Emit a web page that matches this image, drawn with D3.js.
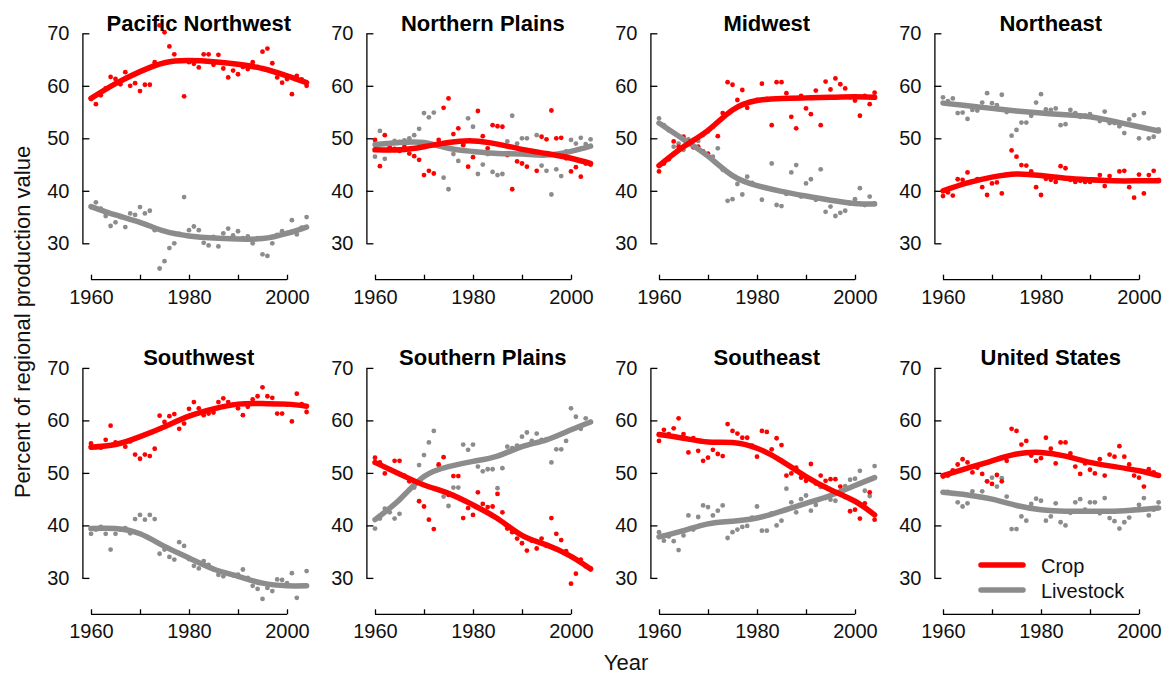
<!DOCTYPE html>
<html>
<head>
<meta charset="utf-8">
<script src="https://cdn.jsdelivr.net/npm/d3@7"></script>
<style>
  body { margin: 0; background: #fff; }
  svg { display: block; font-family: "Liberation Sans", Arial, sans-serif; }
</style>
</head>
<body>
<svg id="chart" width="1163" height="677"></svg>
<script>
// years of the annual observations
const years = [1960, 1961, 1962, 1963, 1964, 1965, 1966, 1967, 1968, 1969,
  1970, 1971, 1972, 1973, 1974, 1975, 1976, 1977, 1978, 1979,
  1980, 1981, 1982, 1983, 1984, 1985, 1986, 1987, 1988, 1989,
  1990, 1991, 1992, 1993, 1994, 1995, 1996, 1997, 1998, 1999,
  2000, 2001, 2002, 2003, 2004];
const fitYears = [1960, 1965, 1970, 1975, 1980, 1985, 1990, 1995, 2000, 2004];

const regionNames = ["Pacific Northwest", "Northern Plains", "Midwest", "Northeast",
  "Southwest", "Southern Plains", "Southeast", "United States"];

const cropPNW = [57.5, 56.5, 58.2, 59.5, 61.7, 61.3, 60.3, 62.6, 60.0, 60.5, 59.0, 60.2, 60.2, 64.5, 71.5, 70.2, 67.5, 66.0, 64.8, 58.0,
  64.5, 64.2, 63.5, 66.0, 66.0, 64.0, 65.9, 63.3, 61.6, 62.9, 62.2, 63.6, 63.2, 64.5, 63.6, 66.5, 67.1, 64.3, 61.6, 60.6, 61.3, 58.4, 61.9, 61.2, 60.0];
const livePNW = [36.9, 37.8, 36.6, 35.2, 33.3, 34.0, 35.0, 33.1, 35.7, 35.4, 36.9, 35.7, 36.2, 32.5, 25.2, 26.6, 29.1, 30.0, 31.8, 38.8,
  32.5, 33.2, 32.5, 30.1, 29.6, 31.2, 29.4, 31.9, 32.8, 31.5, 32.3, 31.0, 31.3, 30.0, 31.0, 27.9, 27.6, 30.0, 31.6, 32.3, 32.0, 34.4, 31.7, 33.0, 35.0];
const cropFitPNW = [57.6, 60.4, 62.7, 64.4, 64.8, 64.6, 64.1, 63.3, 61.9, 60.6];
const liveFitPNW = [37.0, 35.4, 34.0, 32.3, 31.4, 31.0, 30.8, 30.9, 31.9, 33.1];

const cropNP = [49.7, 44.7, 50.6, 48.3, 48.0, 47.6, 48.4, 47.1, 46.6, 45.9, 43.0, 43.8, 43.3, 49.7, 55.8, 57.6, 50.8, 51.9, 48.7, 44.6,
  46.4, 55.2, 50.4, 48.1, 52.5, 52.3, 52.2, 46.8, 40.3, 45.6, 45.2, 44.6, 47.5, 43.8, 50.3, 49.8, 55.3, 50.0, 50.1, 46.2, 43.7, 44.5, 42.7, 45.2, 45.0];
const liveNP = [46.5, 51.4, 46.1, 49.0, 49.5, 49.3, 49.6, 50.0, 50.6, 51.8, 54.8, 54.0, 54.9, 48.5, 42.5, 40.3, 47.0, 45.7, 48.8, 53.8,
  52.2, 43.2, 45.0, 47.0, 43.6, 43.0, 43.2, 49.4, 54.3, 49.0, 50.0, 50.0, 47.0, 50.6, 44.8, 43.8, 39.3, 44.1, 42.8, 47.5, 49.7, 49.0, 50.1, 48.9, 49.8];
const cropFitNP = [47.8, 47.8, 48.4, 49.2, 49.5, 48.9, 47.9, 47.1, 46.2, 45.2];
const liveFitNP = [48.8, 49.2, 49.2, 48.1, 47.5, 47.1, 47.0, 46.8, 47.5, 48.5];

const cropMW = [43.7, 45.2, 46.0, 49.4, 48.4, 50.3, 49.4, 48.3, 48.4, 47.5, 47.1, 52.2, 50.4, 54.8, 60.7, 60.2, 57.3, 59.2, 55.8, 57.0,
  57.3, 60.4, 57.5, 52.5, 60.7, 60.7, 58.6, 54.1, 51.9, 58.1, 55.7, 54.6, 59.1, 52.5, 60.8, 59.3, 61.4, 60.3, 59.5, 57.8, 57.2, 54.3, 58.1, 56.5, 58.7];
const liveMW = [53.8, 52.5, 51.5, 48.4, 49.0, 47.8, 49.8, 49.7, 49.5, 50.6, 51.3, 46.5, 48.1, 44.0, 38.1, 38.4, 41.3, 39.3, 42.7, 41.5,
  41.0, 38.3, 40.5, 45.2, 37.3, 37.1, 39.4, 43.5, 44.9, 38.9, 41.4, 42.2, 38.3, 44.1, 36.0, 37.0, 35.2, 35.8, 36.2, 37.6, 38.4, 40.5, 37.3, 38.9, 37.6];
const cropFitMW = [44.8, 48.4, 51.5, 55.4, 57.2, 57.6, 57.7, 57.8, 57.9, 57.8];
const liveFitMW = [52.9, 49.8, 46.6, 42.9, 41.0, 39.9, 39.0, 38.2, 37.6, 37.5];

const cropNE = [39.0, 39.7, 39.1, 42.2, 42.1, 43.5, 41.8, 42.2, 40.7, 39.2, 41.4, 41.6, 39.5, 43.1, 47.7, 46.5, 44.9, 44.8, 43.7, 40.7,
  39.2, 42.3, 42.1, 41.7, 44.7, 44.3, 42.1, 41.7, 41.9, 41.7, 41.7, 42.0, 43.0, 40.9, 42.8, 41.9, 43.7, 43.8, 40.7, 38.7, 43.1, 39.5, 43.0, 43.8, 42.1];
const liveNE = [57.8, 57.1, 57.6, 54.8, 54.9, 53.7, 55.4, 55.3, 56.8, 58.6, 56.7, 56.3, 58.3, 55.0, 50.5, 51.6, 53.0, 53.0, 54.3, 56.8,
  58.4, 55.5, 55.4, 55.7, 52.5, 52.7, 55.4, 54.8, 54.1, 54.3, 54.6, 54.0, 53.3, 55.1, 52.9, 52.9, 52.3, 51.0, 53.6, 54.4, 50.0, 54.8, 50.0, 50.3, 51.7];
const cropFitNE = [40.0, 41.5, 42.6, 43.2, 42.9, 42.4, 42.1, 41.9, 41.9, 41.9];
const liveFitNE = [56.7, 56.2, 55.7, 55.2, 54.8, 54.5, 54.1, 53.2, 52.2, 51.4];

const cropSW = [55.6, 54.9, 54.8, 56.3, 59.0, 55.8, 55.6, 55.0, 56.0, 53.5, 52.7, 53.5, 53.2, 54.6, 60.9, 59.7, 60.8, 61.2, 58.4, 59.4,
  62.2, 63.5, 62.3, 61.0, 61.3, 61.5, 63.5, 64.2, 63.5, 63.0, 62.3, 61.0, 62.6, 64.0, 64.6, 66.3, 64.6, 64.3, 61.3, 61.3, 63.0, 59.8, 65.1, 63.1, 61.6];
const liveSW = [38.4, 39.2, 39.7, 38.4, 35.4, 38.4, 39.2, 39.5, 38.5, 41.2, 42.0, 41.1, 42.0, 41.2, 34.6, 35.4, 34.0, 33.5, 36.8, 36.1,
  33.6, 32.3, 31.8, 33.2, 32.5, 31.6, 30.6, 30.3, 30.8, 30.5, 30.6, 31.6, 30.0, 28.5, 27.9, 26.0, 28.1, 27.5, 29.7, 29.6, 29.0, 30.9, 26.2, 28.5, 31.3];
const cropFitSW = [54.9, 55.4, 56.9, 58.8, 60.8, 62.2, 63.1, 63.2, 63.1, 62.7];
const liveFitSW = [39.4, 39.4, 38.4, 36.0, 33.8, 31.7, 30.3, 29.0, 28.5, 28.5];

const cropSP = [52.9, 52.0, 49.9, 50.7, 52.3, 52.3, 49.5, 48.4, 48.0, 44.6, 43.6, 41.1, 39.3, 51.6, 53.0, 45.8, 49.4, 49.4, 41.4, 43.3,
  42.0, 46.3, 44.1, 43.5, 43.6, 46.0, 42.5, 39.4, 38.7, 37.5, 36.6, 35.2, 37.1, 35.6, 37.5, 36.1, 41.4, 38.4, 37.2, 35.1, 28.9, 30.8, 33.5, 32.2, 31.8];
const liveSP = [39.4, 41.3, 43.2, 42.5, 41.3, 42.2, 45.8, 46.8, 47.2, 51.5, 53.4, 55.8, 58.0, 51.4, 45.5, 43.7, 47.2, 47.2, 55.4, 54.4,
  55.4, 51.2, 50.3, 50.7, 50.7, 47.1, 50.9, 55.0, 54.7, 55.2, 56.9, 57.7, 56.1, 57.5, 56.3, 56.4, 52.0, 54.5, 54.5, 56.1, 62.3, 60.7, 58.4, 60.4, 59.7];
const cropFitSP = [52.0, 49.8, 47.7, 46.1, 43.9, 41.3, 38.1, 36.3, 34.1, 31.7];
const liveFitSP = [41.1, 44.9, 49.3, 51.2, 52.2, 53.2, 55.0, 56.3, 58.2, 59.7];

const cropSE = [56.1, 58.2, 57.4, 58.5, 60.4, 57.4, 53.9, 56.6, 54.2, 52.3, 52.9, 54.4, 53.6, 53.2, 59.3, 58.0, 57.5, 56.7, 56.7, 55.2,
  53.1, 58.0, 57.8, 54.5, 56.6, 55.3, 49.5, 49.9, 51.0, 49.1, 48.5, 51.7, 48.0, 49.5, 48.5, 48.8, 48.8, 47.4, 45.4, 42.7, 43.0, 41.3, 44.2, 46.3, 41.1];
const liveSE = [38.7, 37.1, 37.9, 37.0, 35.3, 38.1, 41.9, 39.2, 41.6, 43.8, 43.5, 41.9, 42.8, 43.8, 37.6, 38.7, 39.2, 39.7, 39.9, 41.5,
  43.6, 39.0, 39.0, 42.3, 40.0, 40.9, 47.0, 44.4, 42.5, 45.0, 45.7, 42.8, 43.9, 47.3, 45.2, 44.9, 44.7, 46.0, 47.5, 48.7, 48.9, 50.4, 46.6, 45.6, 51.3];
const cropFitSE = [57.3, 56.6, 55.9, 55.8, 54.7, 52.3, 49.3, 46.8, 44.6, 42.0];
const liveFitSE = [37.8, 39.0, 40.3, 40.8, 41.4, 42.7, 44.2, 45.7, 47.6, 49.1];

const cropUS = [49.3, 49.5, 50.5, 51.6, 52.6, 52.0, 50.1, 51.0, 49.8, 48.4, 47.9, 49.6, 48.4, 52.3, 58.4, 58.0, 55.4, 56.1, 53.3, 52.3,
  52.8, 56.7, 54.6, 51.8, 55.8, 55.8, 53.7, 51.2, 49.8, 51.8, 50.6, 49.9, 52.6, 49.5, 53.5, 53.1, 55.1, 53.1, 51.6, 49.5, 49.1, 47.4, 50.7, 50.1, 49.5];
const liveUS = [46.3, 46.4, 46.0, 44.4, 43.6, 44.2, 46.5, 45.5, 46.5, 48.4, 49.1, 47.4, 49.0, 45.5, 39.3, 39.3, 41.7, 40.9, 44.1, 45.1,
  44.7, 40.9, 41.7, 44.2, 40.6, 40.0, 42.4, 44.4, 45.0, 43.0, 44.4, 44.4, 42.3, 45.2, 41.4, 40.8, 39.4, 40.6, 41.5, 43.0, 43.9, 45.2, 41.9, 43.0, 44.4];
const cropFitUS = [49.5, 50.9, 52.3, 53.6, 53.9, 53.2, 52.0, 51.2, 50.4, 49.5];
const liveFitUS = [46.3, 45.8, 45.0, 43.8, 43.0, 42.7, 42.7, 42.7, 43.0, 43.3];

const xTicks = [1960, 1970, 1980, 1990, 2000];
const xTickLabels = ["1960", "", "1980", "", "2000"];
const yTicks = [30, 40, 50, 60, 70];
const legendLabels = ["Crop", "Livestock"];

const cropPts = [cropPNW, cropNP, cropMW, cropNE, cropSW, cropSP, cropSE, cropUS];
const livePts = [livePNW, liveNP, liveMW, liveNE, liveSW, liveSP, liveSE, liveUS];
const cropFits = [cropFitPNW, cropFitNP, cropFitMW, cropFitNE, cropFitSW, cropFitSP, cropFitSE, cropFitUS];
const liveFits = [liveFitPNW, liveFitNP, liveFitMW, liveFitNE, liveFitSW, liveFitSP, liveFitSE, liveFitUS];

const RED = "#ff0000";
const GREY = "#8c8c8c";

const svg = d3.select("#chart");
svg.append("rect").attr("width", 1163).attr("height", 677).attr("fill", "#fff");

const colStep = 284, rowStep = 334.6;
const pxPerYear = 4.9;

regionNames.forEach((name, i) => {
  const col = i % 4, row = Math.floor(i / 4);
  const x0 = 91 + col * colStep;        // pixel of 1960
  const yTop = 33.3 + row * rowStep;    // pixel of 70
  const g = svg.append("g");

  const x = d3.scaleLinear().domain([1960, 2004]).range([x0, x0 + 44 * pxPerYear]);
  const y = d3.scaleLinear().domain([30, 70]).range([yTop + 210, yTop]);

  // y axis, ticks pointing inwards
  const yAxis = d3.axisLeft(y).tickValues(yTicks).tickSizeInner(-7).tickSizeOuter(0).tickPadding(13);
  const axY = g.append("g").attr("transform", `translate(${x0 - 8.6},0)`).call(yAxis);
  axY.select(".domain").attr("stroke-width", 1.3);
  axY.selectAll(".tick line").attr("stroke-width", 1.3);
  axY.selectAll("text").attr("font-size", 20).attr("fill", "#111").attr("font-family", null);

  // x axis, line only from 1960 to 2000
  const xAxisY = yTop + 246.4;
  const xAxis = d3.axisBottom(x).tickValues(xTicks).tickSizeInner(-5).tickSizeOuter(0).tickPadding(10)
    .tickFormat((d, k) => xTickLabels[k]);
  const axX = g.append("g").attr("transform", `translate(0,${xAxisY})`).call(xAxis);
  axX.select(".domain").remove();
  axX.append("line").attr("x1", x(1960)).attr("x2", x(2000)).attr("stroke", "#000").attr("stroke-width", 1.3);
  axX.selectAll(".tick line").attr("stroke-width", 1.3);
  axX.selectAll("text").attr("font-size", 20).attr("fill", "#111").attr("font-family", null);

  // points
  g.append("g").selectAll("circle").data(livePts[i]).join("circle")
    .attr("cx", (d, k) => x(years[k])).attr("cy", d => y(d)).attr("r", 2.4).attr("fill", GREY);
  g.append("g").selectAll("circle").data(cropPts[i]).join("circle")
    .attr("cx", (d, k) => x(years[k])).attr("cy", d => y(d)).attr("r", 2.4).attr("fill", RED);

  // smoothed trends
  const line = d3.line().x((d, k) => x(fitYears[k])).y(d => y(d)).curve(d3.curveNatural);
  g.append("path").datum(liveFits[i]).attr("d", line).attr("fill", "none")
    .attr("stroke", GREY).attr("stroke-width", 5.5).attr("stroke-linecap", "round");
  g.append("path").datum(cropFits[i]).attr("d", line).attr("fill", "none")
    .attr("stroke", RED).attr("stroke-width", 5.5).attr("stroke-linecap", "round");

  // panel title
  g.append("text").attr("x", x(1982)).attr("y", yTop - 2.5)
    .attr("text-anchor", "middle").attr("font-size", 22).attr("font-weight", "bold")
    .text(name);
});

// axis titles
svg.append("text").attr("transform", "translate(30,322) rotate(-90)")
  .attr("text-anchor", "middle").attr("font-size", 22).attr("fill", "#111")
  .text("Percent of regional production value");
svg.append("text").attr("x", 626).attr("y", 670)
  .attr("text-anchor", "middle").attr("font-size", 22).attr("fill", "#111")
  .text("Year");

// legend
const legendColors = [RED, GREY];
const legend = svg.append("g").attr("transform", "translate(981,565)");
legendLabels.forEach((lab, k) => {
  legend.append("line").attr("x1", 0).attr("x2", 42).attr("y1", k * 25).attr("y2", k * 25)
    .attr("stroke", legendColors[k]).attr("stroke-width", 5.5).attr("stroke-linecap", "round");
  legend.append("text").attr("x", 60).attr("y", k * 25 + 7.5)
    .attr("font-size", 20).attr("fill", "#111").text(lab);
});
</script>
</body>
</html>
